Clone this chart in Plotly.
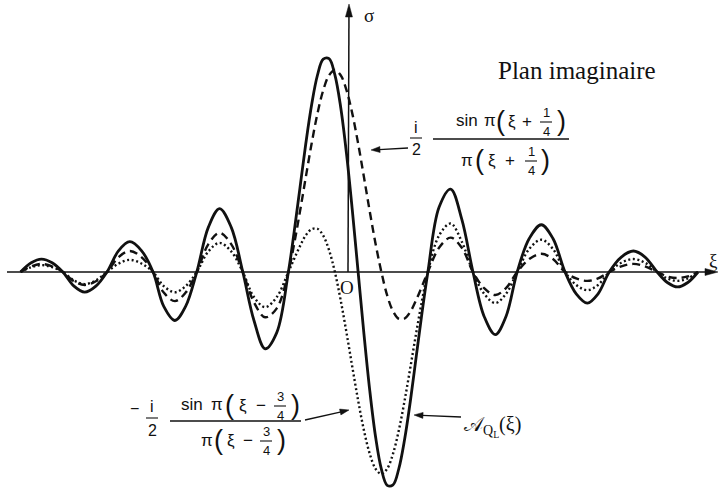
import math
import plotly.graph_objects as go

# Abscissa ξ (shared sampling for the three curves)
XI = [
    -7.01, -6.78, -6.56, -6.33,
    -6.10, -5.86, -5.63, -5.39,
    -5.15, -4.90, -4.66, -4.41,
    -4.16, -3.93, -3.69, -3.46,
    -3.22, -2.97, -2.73, -2.48,
    -2.23, -1.99, -1.75, -1.50,
    -1.25, -1.125, -1.0, -0.875, -0.75, -0.625, -0.5, -0.375,
    -0.25, -0.125, 0.0, 0.125, 0.25, 0.375, 0.5, 0.625,
    0.75, 0.875, 1.0, 1.125, 1.25, 1.375, 1.5, 1.625,
    1.75, 1.99, 2.24, 2.48,
    2.72, 2.96, 3.20, 3.43,
    3.67, 3.93, 4.19, 4.44,
    4.70, 4.94, 5.18, 5.41,
    5.65, 5.91, 6.17, 6.42,
    6.68, 6.90, 7.12, 7.34,
    7.56,
]

# A_QL(ξ) — full line
SOLID = [
    0, 0.023, 0.032, 0.023,
    0, -0.035, -0.050, -0.035,
    0, 0.053, 0.075, 0.053,
    0, -0.085, -0.120, -0.085,
    0, 0.111, 0.157, 0.111,
    0, -0.120, -0.190, -0.150,
    0, 0.100, 0.209, 0.318, 0.414, 0.487, 0.527, 0.528,
    0.488, 0.408, 0.293, 0.153, 0, -0.153, -0.293, -0.408,
    -0.488, -0.528, -0.527, -0.487, -0.414, -0.318, -0.209, -0.100,
    0, 0.160, 0.205, 0.130,
    0, -0.110, -0.155, -0.110,
    0, 0.083, 0.117, 0.083,
    0, -0.054, -0.077, -0.054,
    0, 0.037, 0.052, 0.037,
    0, -0.026, -0.037, -0.026,
    0,
]

# (i/2) sin π(ξ+1/4) / π(ξ+1/4) — dashed
DASHED = [
    0, 0.014, 0.020, 0.014,
    0, -0.023, -0.032, -0.023,
    0, 0.037, 0.052, 0.037,
    0, -0.051, -0.072, -0.051,
    0, 0.069, 0.097, 0.069,
    0, -0.075, -0.112, -0.090,
    0, 0.070, 0.150, 0.235, 0.318, 0.392, 0.450, 0.487,
    0.500, 0.487, 0.450, 0.392, 0.318, 0.235, 0.150, 0.070,
    0, -0.058, -0.097, -0.116, -0.115, -0.098, -0.069, -0.035,
    0, 0.060, 0.085, 0.060,
    0, -0.040, -0.057, -0.040,
    0, 0.032, 0.045, 0.032,
    0, -0.016, -0.022, -0.016,
    0, 0.014, 0.020, 0.014,
    0, -0.011, -0.015, -0.011,
    0,
]

# -(i/2) sin π(ξ-3/4) / π(ξ-3/4) — dotted
DOTTED = [
    0, 0.012, 0.017, 0.012,
    0, -0.021, -0.030, -0.021,
    0, 0.021, 0.030, 0.021,
    0, -0.035, -0.050, -0.035,
    0, 0.051, 0.072, 0.051,
    0, -0.062, -0.087, -0.062,
    0, 0.033, 0.064, 0.091, 0.106, 0.107, 0.090, 0.054,
    0, -0.070, -0.150, -0.235, -0.318, -0.392, -0.450, -0.487,
    -0.500, -0.487, -0.450, -0.392, -0.318, -0.235, -0.150, -0.070,
    0, 0.090, 0.120, 0.075,
    0, -0.054, -0.077, -0.054,
    0, 0.057, 0.080, 0.057,
    0, -0.032, -0.045, -0.032,
    0, 0.023, 0.032, 0.023,
    0, -0.016, -0.022, -0.016,
    0,
]

W, H = 722, 491
PX_PER_XI = 46.5      # horizontal scale
PX_PER_SIGMA = 404.0  # vertical scale
X_ORIGIN_PX = 346.5
Y_ORIGIN_PX = 272.0

x_lo = -X_ORIGIN_PX / PX_PER_XI
x_hi = x_lo + W / PX_PER_XI
y_hi = Y_ORIGIN_PX / PX_PER_SIGMA
y_lo = y_hi - H / PX_PER_SIGMA

INK = "#111111"
SANS = "Liberation Sans, Arial, sans-serif"
SERIF = "Liberation Serif, Times New Roman, serif"

fig = go.Figure()
fig.add_trace(go.Scatter(x=XI, y=DOTTED, mode="lines", line_shape="spline",
                         line=dict(color=INK, width=2.4, dash="2px,2.6px")))
fig.add_trace(go.Scatter(x=XI, y=DASHED, mode="lines", line_shape="spline",
                         line=dict(color=INK, width=2.4, dash="8px,5px")))
fig.add_trace(go.Scatter(x=XI, y=SOLID, mode="lines", line_shape="spline",
                         line=dict(color=INK, width=2.8)))


def P(x, y):
    return x / W, 1 - y / H


ann = []


def text(x, y, s, size=17, family=SANS, anchor="center"):
    px, py = P(x, y)
    ann.append(dict(x=px, y=py, xref="paper", yref="paper", text=s, showarrow=False,
                    xanchor=anchor, yanchor="middle",
                    font=dict(size=size, family=family, color=INK)))


def seg(x0, y0, x1, y1, width=1.3):
    a, b = P(x0, y0)
    c, d = P(x1, y1)
    fig.add_shape(type="line", xref="paper", yref="paper", x0=a, y0=b, x1=c, y1=d,
                  line=dict(color=INK, width=width))


def arrow(hx, hy, tx, ty, width=1.3, length=9.0, half=3.0):
    """Line from tail (tx, ty) to head (hx, hy) with a filled head, in pixels."""
    dx, dy = hx - tx, hy - ty
    n = math.hypot(dx, dy)
    ux, uy = dx / n, dy / n
    bx, by = hx - ux * length, hy - uy * length
    seg(tx, ty, bx + ux * 1.0, by + uy * 1.0, width)
    pts = [(hx, hy), (bx - uy * half, by + ux * half), (bx + uy * half, by - ux * half)]
    path = "M " + " L ".join(f"{P(x, y)[0]:.5f},{P(x, y)[1]:.5f}" for x, y in pts) + " Z"
    fig.add_shape(type="path", xref="paper", yref="paper", path=path,
                  fillcolor=INK, line=dict(color=INK, width=0.5))


def small_frac(x, y_mid, num, den, size=13, gap=9.5, bar=6):
    text(x, y_mid - gap, num, size=size)
    seg(x - bar, y_mid, x + bar, y_mid, 1.1)
    text(x, y_mid + gap, den, size=size)


# coordinate axes
arrow(718, 272, 7, 272, width=1.5, length=13, half=3.5)
arrow(349, 4, 348, 272, width=1.5, length=13, half=3.5)
text(369, 15, "σ", size=19, family=SERIF)
text(713, 260, "ξ", size=19, family=SERIF)
text(347, 287, "O", size=19, family=SERIF)

text(577, 70, "Plan imaginaire", size=25, family=SERIF)

# upper formula (dashed curve):  i/2 · sin π(ξ + 1/4) / π(ξ + 1/4)
small_frac(416, 138, "i", "2", size=16, gap=11, bar=6)
text(467, 120, "sin", size=17)
text(490, 120, "π", size=17)
text(500, 121, "(", size=27)
text(512, 121, "ξ", size=17)
text(527, 121, "+", size=17)
small_frac(546, 122, "1", "4", size=13)
text(561, 121, ")", size=27)
seg(433, 139, 569, 139, 1.4)
text(467, 160, "π", size=17)
text(479, 160, "(", size=27)
text(492, 160, "ξ", size=17)
text(510, 160, "+", size=17)
small_frac(531, 161, "1", "4", size=13)
text(545, 160, ")", size=27)
arrow(371, 150, 408, 148)

# lower formula (dotted curve):  -i/2 · sin π(ξ - 3/4) / π(ξ - 3/4)
text(134, 408, "−", size=16)
small_frac(152, 418, "i", "2", size=16, gap=12, bar=6)
text(192, 404, "sin", size=17)
text(217, 404, "π", size=17)
text(229, 405, "(", size=27)
text(243, 405, "ξ", size=17)
text(261, 405, "−", size=17)
small_frac(280, 406, "3", "4", size=13)
text(295, 405, ")", size=27)
seg(170, 421, 301, 421, 1.4)
text(207, 440, "π", size=17)
text(218, 440, "(", size=27)
text(231, 440, "ξ", size=17)
text(248, 440, "−", size=17)
small_frac(266, 441, "3", "4", size=13)
text(281, 440, ")", size=27)
arrow(349, 410, 305, 420)

# solid curve label
text(462, 426, "𝒜<sub>Q<sub>L</sub></sub>(ξ)", size=20, family=SERIF, anchor="left")
arrow(414, 415, 461, 417)

fig.update_layout(
    width=W, height=H,
    margin=dict(l=0, r=0, t=0, b=0),
    paper_bgcolor="white", plot_bgcolor="white",
    showlegend=False,
    xaxis=dict(range=[x_lo, x_hi], visible=False, fixedrange=True),
    yaxis=dict(range=[y_lo, y_hi], visible=False, fixedrange=True),
    annotations=ann,
)

fig.write_html("out.html")
